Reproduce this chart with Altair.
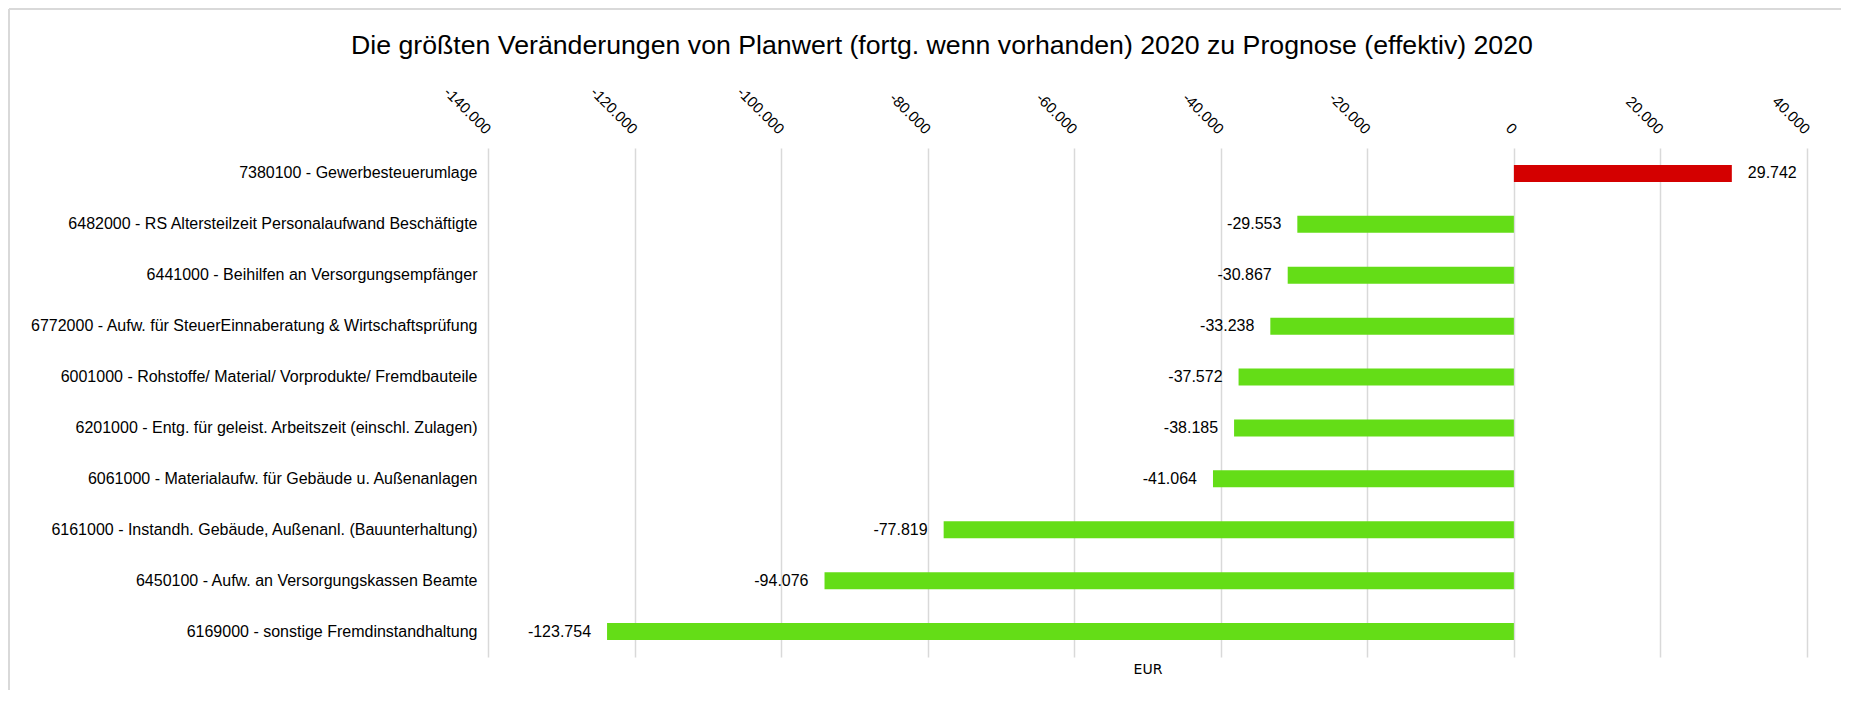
import altair as alt
import pandas as pd

categories = [
    "7380100 - Gewerbesteuerumlage",
    "6482000 - RS Altersteilzeit Personalaufwand Beschäftigte",
    "6441000 - Beihilfen an Versorgungsempfänger",
    "6772000 - Aufw. für SteuerEinnaberatung & Wirtschaftsprüfung",
    "6001000 - Rohstoffe/ Material/ Vorprodukte/ Fremdbauteile",
    "6201000 - Entg. für geleist. Arbeitszeit (einschl. Zulagen)",
    "6061000 - Materialaufw. für Gebäude u. Außenanlagen",
    "6161000 - Instandh. Gebäude, Außenanl. (Bauunterhaltung)",
    "6450100 - Aufw. an Versorgungskassen Beamte",
    "6169000 - sonstige Fremdinstandhaltung",
]
values = [29742, -29553, -30867, -33238, -37572, -38185, -41064, -77819, -94076, -123754]
tick_values = [-140000, -120000, -100000, -80000, -60000, -40000, -20000, 0, 20000, 40000]

title_text = "Die größten Veränderungen von Planwert (fortg. wenn vorhanden) 2020 zu Prognose (effektiv) 2020"
x_title = "EUR"

df = pd.DataFrame({"cat": categories, "value": values})

W = 1319
H = 509
FONT = "Liberation Sans"
FMT = "replace(replace(format(datum.value, ','), ',', '.'), '\u2212', '-')"

xscale = alt.Scale(domain=[-140000, 40000], nice=False, zero=False)
yscale = alt.Scale(type="band", paddingInner=0, paddingOuter=0)
ysort = categories

base = alt.Chart(df).transform_calculate(lbl=FMT)

yaxis = alt.Axis(domain=False, ticks=False, grid=False, labelPadding=11,
                 labelFont=FONT, labelFontSize=16, labelColor="#000",
                 labelLimit=800, title=None)

bars = base.mark_bar(size=17).encode(
    x=alt.X("value:Q", scale=xscale,
            axis=alt.Axis(orient="top", values=tick_values, labelAngle=45,
                          labelAlign="right", labelBaseline="middle",
                          labelExpr=FMT,
                          grid=True, gridColor="#d9d9d9", gridWidth=1.5,
                          domain=False, ticks=False, labelPadding=17,
                          labelFont=FONT, labelFontSize=15, labelColor="#000",
                          title=None)),
    y=alt.Y("cat:N", sort=ysort, scale=yscale, axis=yaxis),
    color=alt.condition(alt.datum.value > 0, alt.value("#D40000"), alt.value("#64DD17")),
)

pos_text = base.transform_filter(alt.datum.value > 0).mark_text(
    align="left", baseline="middle", dx=16, font=FONT, fontSize=16, color="#000"
).encode(
    x=alt.X("value:Q", scale=xscale, axis=None),
    y=alt.Y("cat:N", sort=ysort, scale=yscale, axis=yaxis),
    text="lbl:N",
)

neg_text = base.transform_filter(alt.datum.value < 0).mark_text(
    align="right", baseline="middle", dx=-16, font=FONT, fontSize=16, color="#000"
).encode(
    x=alt.X("value:Q", scale=xscale, axis=None),
    y=alt.Y("cat:N", sort=ysort, scale=yscale, axis=yaxis),
    text="lbl:N",
)

eur_axis = base.mark_point(opacity=0).encode(
    x=alt.X("value:Q", scale=xscale,
            axis=alt.Axis(orient="bottom", labels=False, ticks=False, domain=False,
                          grid=False, title=x_title, titleFont="DejaVu Sans",
                          titleFontSize=14, titleFontWeight="normal",
                          titleColor="#000", titlePadding=5)),
    y=alt.Y("cat:N", sort=ysort, scale=yscale, axis=yaxis),
)

frame = pd.DataFrame({"a": [0]})
top_rule = alt.Chart(frame).mark_rule(color="#d9d9d9", strokeWidth=2).encode(
    x=alt.value(-479), x2=alt.value(W + 34), y=alt.value(-139)
)
left_rule = alt.Chart(frame).mark_rule(color="#d9d9d9", strokeWidth=2).encode(
    x=alt.value(-479), y=alt.value(-139), y2=alt.value(H + 33)
)

chart = alt.layer(bars, pos_text, neg_text, eur_axis, top_rule, left_rule).resolve_axis(
    x="independent"
).properties(
    width=W, height=H,
    title=alt.TitleParams(title_text, font=FONT, fontSize=26.7, fontWeight="normal",
                          color="#000", anchor="start", frame="group", dx=-137,
                          offset=-52),
    padding=0,
    autosize=alt.AutoSizeParams(type="pad"),
).configure(background="white").configure_view(stroke=None)

chart.save("out.html", embed_options={"renderer": "svg", "actions": False})
